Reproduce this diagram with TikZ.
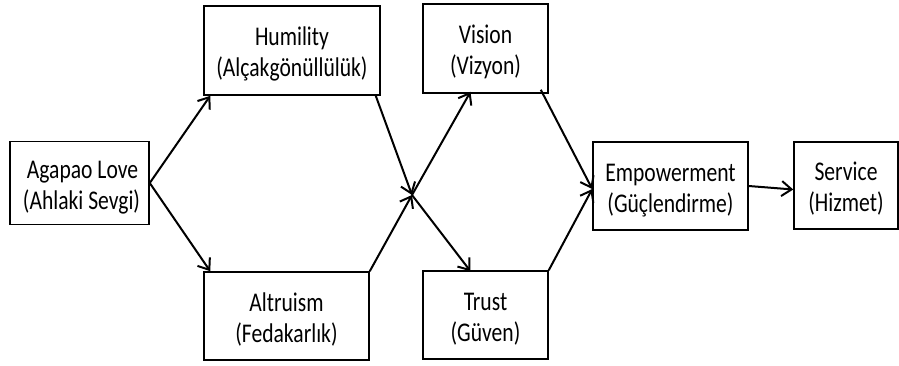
\documentclass[tikz,border=0pt]{standalone}
\usepackage{fontspec}
\setmainfont[FakeStretch=0.8]{Carlito}
\usetikzlibrary{arrows.meta}
\newcommand{\tl}{\rule{0pt}{26pt}}
\newcommand{\bl}{\rule[-5pt]{0pt}{0pt}}
\begin{document}
\begin{tikzpicture}[x=1pt,y=-1pt,
  box/.style={draw=black,line width=1.5pt,rectangle,inner sep=0pt,align=center,
    font=\fontsize{27}{31}\selectfont},
  conn/.style={line width=2pt,-{Straight Barb[length=10pt,width=15pt,line width=2pt]}}]
\useasboundingbox (0,0) rectangle (899,365);
\node[box,minimum width=139pt,minimum height=83pt] (agape) at (79.5,183) {\tl\hspace*{6pt}Agapao Love\\\hspace*{4pt}(Ahlaki Sevgi)\bl};
\node[box,minimum width=176pt,minimum height=89pt] (hum) at (292,50.5) {\tl Humility\\(Alçakgönüllülük)\bl};
\node[box,minimum width=165pt,minimum height=88pt] (alt) at (286.5,316) {\tl Altruism\\(Fedakarlık)\bl};
\node[box,minimum width=125pt,minimum height=89pt] (vis) at (485.5,48.5) {\tl Vision\\(Vizyon)\bl};
\node[box,minimum width=125pt,minimum height=88pt] (tru) at (485.5,315) {\tl Trust\\(Güven)\bl};
\node[box,minimum width=155pt,minimum height=88pt] (emp) at (670.5,186) {\tl Empowerment\\(Güçlendirme)\bl};
\node[box,minimum width=104pt,minimum height=87pt] (ser) at (846,185.5) {\tl Service\\(Hizmet)\bl};
\coordinate (X) at (412,195);
\draw[conn] (agape.east) -- ([xshift=7pt]hum.south west);
\draw[conn] (agape.east) -- ([xshift=7pt]alt.north west);
\draw[conn] ([xshift=-5pt]hum.south east) -- (X);
\draw[conn] (alt.north east) -- (X);
\draw[conn] (X) -- ([yshift=2pt,xshift=-15pt]vis.south);
\draw[conn] (X) -- ([yshift=-1pt,xshift=-15pt]tru.north);
\draw[conn] ([xshift=-8pt,yshift=4pt]vis.south east) -- ([yshift=-3pt]emp.west);
\draw[conn] (tru.north east) -- ([yshift=-3pt]emp.west);
\draw[conn] (emp.east) -- ([yshift=-4pt]ser.west);
\end{tikzpicture}
\end{document}
